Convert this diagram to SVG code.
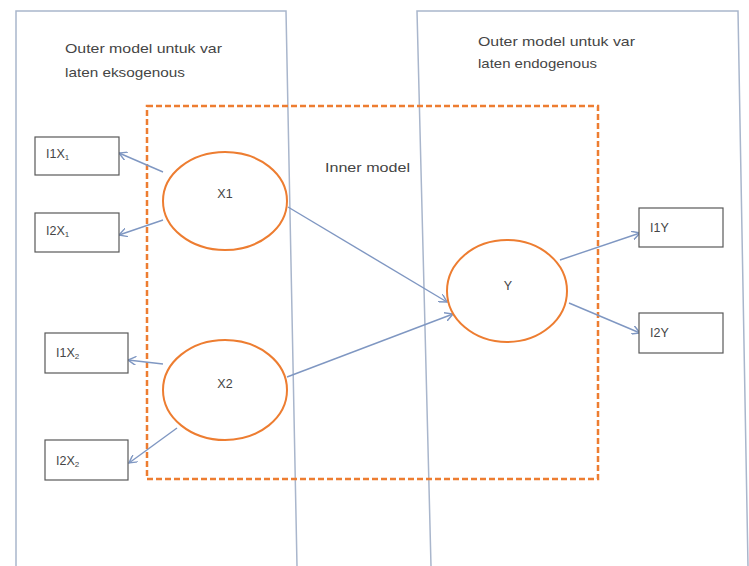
<svg xmlns="http://www.w3.org/2000/svg" width="749" height="566" viewBox="0 0 749 566">
  <style>
    .frame { fill: none; stroke: #a9b6cc; stroke-width: 1.5; }
    .inner { fill: none; stroke: #ed7d31; stroke-width: 2.5; stroke-dasharray: 6 3; }
    .latent { fill: #ffffff; stroke: #ed7d31; stroke-width: 2; }
    .indicator { fill: #ffffff; stroke: #595959; stroke-width: 1.2; }
    .link { fill: none; stroke: #7f97c2; stroke-width: 1.4; marker-end: url(#arrow); }
    text { font-family: "Liberation Sans", Arial, sans-serif; fill: #454545; }
    .note { font-size: 13.5px; }
    .lbl { font-size: 12.5px; }
    .sub { font-size: 8px; }
  </style>
  <defs>
    <marker id="arrow" viewBox="0 0 10 10" refX="9" refY="5" markerWidth="9" markerHeight="9" markerUnits="userSpaceOnUse" orient="auto">
      <path d="M0,0 L9,5 L0,10" fill="none" stroke="#7f97c2" stroke-width="1.6"/>
    </marker>
  </defs>

  <rect width="749" height="566" fill="#ffffff"/>

  <!-- outer model frames -->
  <g id="frame-exogenous">
    <path class="frame" d="M16,566 L16,11 L286,11 L297,566"/>
    <text class="note" x="65" y="53" textLength="157" lengthAdjust="spacingAndGlyphs">Outer model untuk var</text>
    <text class="note" x="65" y="77" textLength="120" lengthAdjust="spacingAndGlyphs">laten eksogenous</text>
  </g>
  <g id="frame-endogenous">
    <path class="frame" d="M431,566 L417,11 L738,11 L748,566"/>
    <text class="note" x="478" y="46" textLength="157" lengthAdjust="spacingAndGlyphs">Outer model untuk var</text>
    <text class="note" x="478" y="68" textLength="119" lengthAdjust="spacingAndGlyphs">laten endogenous</text>
  </g>

  <!-- inner model frame -->
  <g id="inner-model">
    <rect class="inner" x="147" y="106" width="451" height="373"/>
    <text class="note" x="325" y="172" textLength="85" lengthAdjust="spacingAndGlyphs">Inner model</text>
  </g>

  <!-- connectors -->
  <g id="connectors">
    <line class="link" x1="163" y1="172" x2="119" y2="153"/>
    <line class="link" x1="163" y1="220" x2="119" y2="235"/>
    <line class="link" x1="163" y1="364" x2="128" y2="360"/>
    <line class="link" x1="177" y1="428" x2="129" y2="463"/>
    <line class="link" x1="288" y1="207" x2="447" y2="302"/>
    <line class="link" x1="287" y1="377" x2="453" y2="314"/>
    <line class="link" x1="560" y1="260" x2="640" y2="233"/>
    <line class="link" x1="569" y1="303" x2="640" y2="333"/>
  </g>

  <!-- latent variables -->
  <g id="node-x1">
    <ellipse class="latent" cx="225" cy="201" rx="62" ry="49"/>
    <text class="lbl" x="225" y="198" text-anchor="middle">X1</text>
  </g>
  <g id="node-x2">
    <ellipse class="latent" cx="225" cy="390" rx="62" ry="50"/>
    <text class="lbl" x="225" y="388" text-anchor="middle">X2</text>
  </g>
  <g id="node-y">
    <ellipse class="latent" cx="507" cy="291" rx="60" ry="51"/>
    <text class="lbl" x="508" y="290" text-anchor="middle">Y</text>
  </g>

  <!-- indicators -->
  <g id="node-i1x1">
    <rect class="indicator" x="35" y="137" width="84" height="38"/>
    <text class="lbl" x="46" y="158">I1X<tspan class="sub" dy="2">1</tspan></text>
  </g>
  <g id="node-i2x1">
    <rect class="indicator" x="35" y="213" width="84" height="39"/>
    <text class="lbl" x="46" y="235">I2X<tspan class="sub" dy="2">1</tspan></text>
  </g>
  <g id="node-i1x2">
    <rect class="indicator" x="45" y="333" width="83" height="40"/>
    <text class="lbl" x="56" y="357">I1X<tspan class="sub" dy="2">2</tspan></text>
  </g>
  <g id="node-i2x2">
    <rect class="indicator" x="45" y="440" width="83" height="40"/>
    <text class="lbl" x="56" y="465">I2X<tspan class="sub" dy="2">2</tspan></text>
  </g>
  <g id="node-i1y">
    <rect class="indicator" x="639" y="208" width="84" height="39"/>
    <text class="lbl" x="650" y="232">I1Y</text>
  </g>
  <g id="node-i2y">
    <rect class="indicator" x="639" y="313" width="84" height="40"/>
    <text class="lbl" x="650" y="337">I2Y</text>
  </g>
</svg>
